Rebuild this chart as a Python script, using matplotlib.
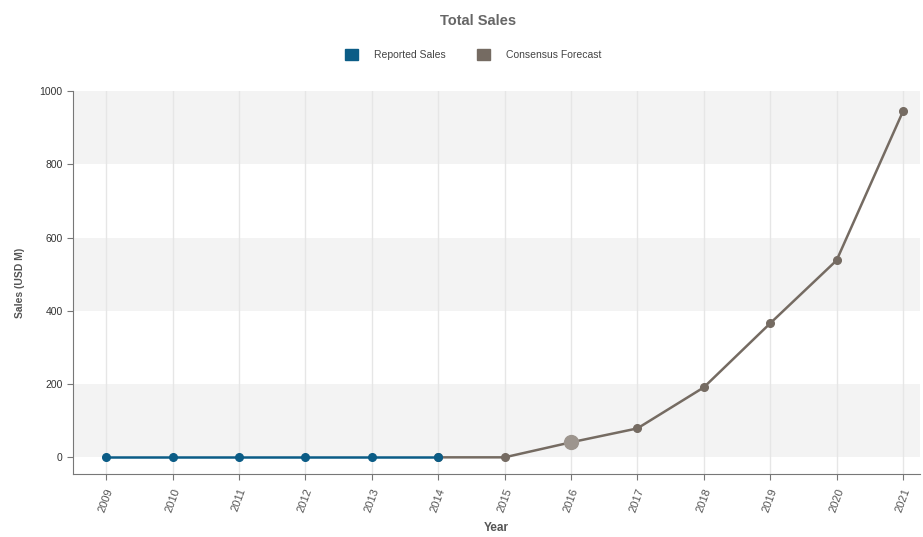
import matplotlib.pyplot as plt
import matplotlib.patches as mpatches

years = list(range(2009, 2022))
reported_years = [2009, 2010, 2011, 2012, 2013, 2014]
reported_sales = [0, 0, 0, 0, 0, 0]
forecast_years = [2014, 2015, 2016, 2017, 2018, 2019, 2020, 2021]
forecast_sales = [0, 0, 41, 79, 191, 366, 538, 945]
highlight_year = 2016
highlight_value = 41

blue = "#0b5c86"
brown = "#756b62"
text_col = "#555555"

plt.rcParams['font.family'] = ['Liberation Sans', 'DejaVu Sans']

fig = plt.figure(figsize=(9.23, 5.37), dpi=100)
ax = fig.add_axes([0.079, 0.117, 0.918, 0.713])

# alternating bands
for lo in (0, 400, 800):
    ax.axhspan(lo, lo + 200, color="#f3f3f3", zorder=0, lw=0)

for yr in years:
    ax.axvline(yr, color="#e6e6e6", lw=1, zorder=1)

ax.plot(forecast_years, forecast_sales, color=brown, lw=1.8, marker="o", ms=5.5, zorder=3)
ax.plot(reported_years, reported_sales, color=blue, lw=1.8, marker="o", ms=5.5, zorder=4)
ax.plot([highlight_year], [highlight_value], marker="o", ms=10, color="#9d958e", zorder=5)

ax.set_xlim(2008.5, 2021.26)
ax.set_ylim(-46, 1000)
ax.set_xticks(years)
ax.set_xticklabels([str(y) for y in years], rotation=70, fontsize=8, color=text_col)
ax.set_yticks([0, 200, 400, 600, 800, 1000])
ax.tick_params(axis="y", labelsize=7.5, colors=text_col)
ax.tick_params(axis="x", pad=5)
ax.tick_params(axis="both", color="#777777", length=4)
for lab in ax.get_yticklabels():
    lab.set_color("#333333")

for s in ("top", "right"):
    ax.spines[s].set_visible(False)
for s in ("left", "bottom"):
    ax.spines[s].set_color("#777777")

ax.set_xlabel("Year", fontsize=8.5, fontweight="bold", color=text_col, labelpad=6)
ax.set_ylabel("Sales (USD M)", fontsize=7.5, fontweight="bold", color=text_col, labelpad=10)

fig.text(0.518, 0.96, "Total Sales", ha="center", va="center", fontsize=10.5,
         fontweight="bold", color="#666666")

patches = [mpatches.Patch(color=blue, label="Reported Sales"),
           mpatches.Patch(color=brown, label="Consensus Forecast")]
fig.legend(handles=patches, loc="center", bbox_to_anchor=(0.513, 0.898), ncol=2,
           frameon=False, fontsize=7.5, handlelength=1.2, handleheight=1.2,
           handletextpad=1.6, columnspacing=3.0, labelcolor="#444444")

fig.savefig("out.png", dpi=100)
